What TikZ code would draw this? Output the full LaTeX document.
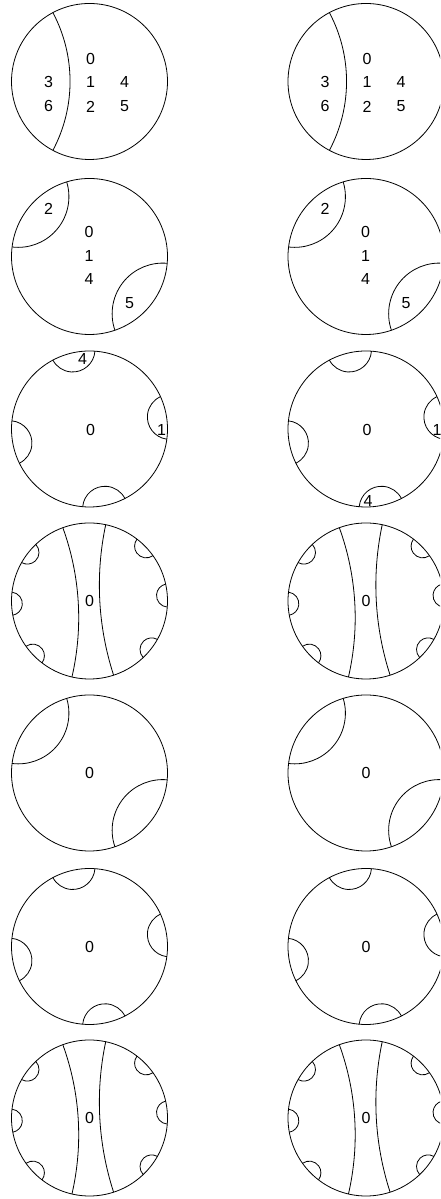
\documentclass[tikz,border=0pt]{standalone}
\usepackage{fontspec}
\setmainfont{Liberation Sans}
\tikzset{
  disk/.style={circle,draw,line width=0.8pt,minimum size=156pt,inner sep=0pt,outer sep=0pt},
  geoline/.style={line width=0.8pt},
  num/.style={inner sep=0pt,font=\fontsize{16}{19}\selectfont},
}
\def\diskR{78}
% arc orthogonal to the disk, between two boundary angles
\newcommand{\geo}[3]{%
  \draw[geoline] ([shift={(#2:\diskR)}]#1.center)
    arc[start angle={(#2)+270}, end angle={(#3)+90}, radius={\diskR*tan(((#3)-(#2))/2)}];}

\begin{document}
\begin{tikzpicture}[x=1pt,y=1pt]
  \clip (0,0) rectangle (440,1199);

  \foreach \c/\x in {L/89.5, R/366}
    \foreach \r/\y in {1/1117.5, 2/942.5, 3/770, 4/598, 5/426, 6/252.5, 7/81}
      \node[disk] (\c\r) at (\x,\y) {};

  \foreach \c in {L,R} {
    % row 1
    \geo{\c1}{118}{242}
    \foreach \t/\dx/\dy in {0/1/22, 1/1/-1, 2/1/-25, 3/-41/-1, 6/-41/-25, 4/35/-1, 5/35/-25}
      \node[num] (\c1-\t) at ([shift={(\dx,\dy)}]\c1) {\t};
    % rows 2 and 5
    \foreach \r in {2,5} {
      \geo{\c\r}{107}{173}
      \geo{\c\r}{-71}{-5}
    }
    \foreach \t/\dx/\dy in {2/-41/48, 0/-0.5/24, 1/-0.5/0, 4/-0.5/-23, 5/40/-46.5}
      \node[num] (\c2-\t) at ([shift={(\dx,\dy)}]\c2) {\t};
    % rows 3 and 6
    \foreach \r in {3,6}
      \foreach \a/\b in {86/118, -7.5/24.5, 174/206, 265/297}
        \geo{\c\r}{\a}{\b};
    % rows 4 and 7
    \foreach \r in {4,7} {
      \geo{\c\r}{110}{257}
      \geo{\c\r}{-72}{78}
      \foreach \m in {44,4,-38,142,182,224}
        \geo{\c\r}{\m-8.5}{\m+8.5};
    }
    \foreach \r in {4,5,6,7}
      \node[num] (\c\r-0) at (\c\r) {0};
  }

  \node[num] (L3-0) at ([shift={(1,-1)}]L3) {0};
  \node[num] (L3-4) at ([shift={(-7,70)}]L3) {4};
  \node[num] (L3-1) at ([shift={(72,-1)}]L3) {1};
  \node[num] (R3-0) at ([shift={(1,-1)}]R3) {0};
  \node[num] (R3-4) at ([shift={(2,-72.5)}]R3) {4};
  \node[num] (R3-1) at ([shift={(71,-1)}]R3) {1};
\end{tikzpicture}
\end{document}
